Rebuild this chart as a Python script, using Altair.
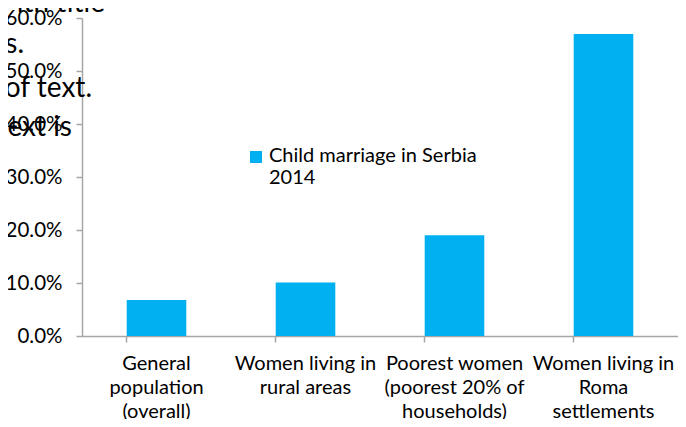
import altair as alt
import pandas as pd

categories = [
    "General population (overall)",
    "Women living in rural areas",
    "Poorest women (poorest 20% of households)",
    "Women living in Roma settlements",
]
label_lines = [
    ["General", "population", "(overall)"],
    ["Women living in", "rural areas"],
    ["Poorest women", "(poorest 20% of", "households)"],
    ["Women living in", "Roma", "settlements"],
]
values = [0.068, 0.101, 0.190, 0.570]
series_name = "Child marriage in Serbia 2014"
legend_lines = ["Child marriage in Serbia", "2014"]
y_ticks = [0, 0.1, 0.2, 0.3, 0.4, 0.5, 0.6]

# clipped text fragments from the slide behind the chart
fragments = ["ith title", "s.", "of text.", "ext is"]

df = pd.DataFrame({"category": categories, "value": values, "series": series_name})

label_expr = " : ".join(
    [f"datum.value == {c!r} ? {l!r}" for c, l in zip(categories, label_lines)]
) + " : datum.value"

FONT = "Lato"
AXIS_GREY = "#A6A6A6"

bars = alt.Chart(df).mark_bar(color="#00B0F0").encode(
    x=alt.X(
        "category:N",
        sort=categories,
        title=None,
        scale=alt.Scale(paddingInner=0.6, paddingOuter=0.3),
        axis=alt.Axis(
            labelAngle=0,
            labelExpr=label_expr,
            labelFont=FONT,
            labelFontSize=20,
            labelColor="#000000",
            labelPadding=11,
            labelLineHeight=24,
            labelLimit=220,
            bandPosition=0,
            domainColor=AXIS_GREY,
            tickColor=AXIS_GREY,
            tickSize=6,
            domainWidth=1.5,
            tickWidth=1.5,
        ),
    ),
    y=alt.Y(
        "value:Q",
        title=None,
        scale=alt.Scale(domain=[0, 0.6], nice=False),
        axis=alt.Axis(
            format=".1%",
            values=y_ticks,
            grid=False,
            labelFont=FONT,
            labelFontSize=20.5,
            labelColor="#000000",
            labelPadding=14,
            domainColor=AXIS_GREY,
            tickColor=AXIS_GREY,
            tickSize=6,
            domainWidth=1.5,
            tickWidth=1.5,
        ),
    ),
    fill=alt.Fill(
        "series:N",
        scale=alt.Scale(range=["#00B0F0"]),
        legend=alt.Legend(
            title=None,
            orient="none",
            legendX=164,
            legendY=134,
            symbolType="M-1,-1.833H1V0.167H-1Z",
            symbolSize=144,
            symbolStrokeWidth=0,
            labelFont=FONT,
            labelFontSize=20,
            labelColor="#000000",
            labelLimit=320,
            labelBaseline="alphabetic",
            labelOffset=3,
            labelExpr=repr(legend_lines),
        ),
    ),
)

frag_df = pd.DataFrame({
    "text": fragments,
    "x": [23, -58, 10, -10],
    "y": [-6, 35, 79, 118],
})

frags = alt.Chart(frag_df).mark_text(
    align="right", baseline="alphabetic", font=FONT, fontSize=28, color="#000000"
).encode(
    text="text:N",
    x=alt.X("x:Q", scale=None),
    y=alt.Y("y:Q", scale=None),
)

chart = alt.layer(bars, frags).properties(
    width=596,
    height=318,
    padding={"left": 74, "top": 10, "right": 0, "bottom": 83},
    autosize=alt.AutoSizeParams(type="none"),
).configure_view(stroke=None)

chart.save("out.html", embed_options={"renderer": "svg", "actions": False})
